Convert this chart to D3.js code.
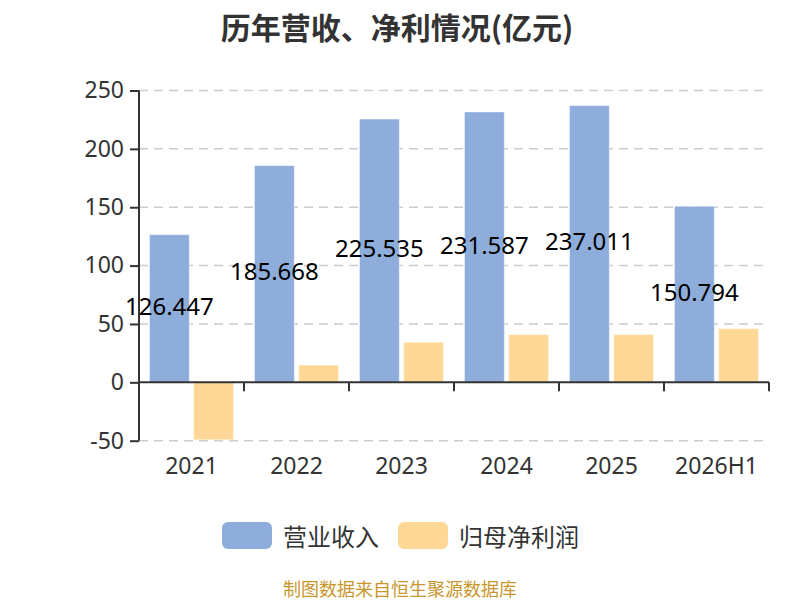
<!DOCTYPE html>
<html>
<head>
<meta charset="utf-8">
<script src="https://cdn.jsdelivr.net/npm/d3@7"></script>
<style>
  body { margin: 0; background: #fff; }
  svg { display: block; }
</style>
</head>
<body>
<script>
// chart data
var years = ["2021", "2022", "2023", "2024", "2025", "2026H1"];
var revenue = [126.447, 185.668, 225.535, 231.587, 237.011, 150.794];
var profit = [-49.2, 14.8, 34.3, 40.9, 40.9, 46.0];
var yTicks = [-50, 0, 50, 100, 150, 200, 250];
var seriesNames = ["营业收入", "归母净利润"];
var colors = ["#8eaddb", "#ffd898"];

var w = 800, h = 600;
var font = "'Noto Sans', 'Noto Sans CJK SC', sans-serif";

var svg = d3.select("body")
    .append("svg")
    .attr("width", w)
    .attr("height", h);

var xScale = d3.scaleBand()
    .domain(years)
    .range([139, 769]);
var inner = d3.scaleBand()
    .domain([0, 1])
    .range([10.5, xScale.bandwidth() - 10.5])
    .paddingInner(0.1);
var yScale = d3.scaleLinear()
    .domain([-50, 250])
    .range([440.7, 90.5]);

// title
svg.append("text")
    .text("历年营收、净利情况(亿元)")
    .attr("x", 397)
    .attr("y", 26)
    .attr("text-anchor", "middle")
    .attr("dominant-baseline", "central")
    .attr("font-family", "'Noto Sans CJK SC', sans-serif")
    .attr("font-weight", "bold")
    .attr("font-size", "30px")
    .attr("fill", "#333");

// dashed grid
svg.append("g")
    .selectAll("line")
    .data(yTicks.filter(function (d) { return d !== 0; }))
    .enter()
    .append("line")
    .attr("x1", 139)
    .attr("x2", 769)
    .attr("y1", function (d) { return yScale(d); })
    .attr("y2", function (d) { return yScale(d); })
    .attr("stroke", "#cccccc")
    .attr("stroke-width", 1.5)
    .attr("stroke-dasharray", "9,6");

// bars
var groups = svg.append("g")
    .selectAll("g")
    .data(years)
    .enter()
    .append("g")
    .attr("transform", function (d) { return "translate(" + xScale(d) + ",0)"; });

groups.selectAll("rect")
    .data(function (d, i) { return [revenue[i], profit[i]]; })
    .enter()
    .append("rect")
    .attr("x", function (d, j) { return inner(j); })
    .attr("width", inner.bandwidth())
    .attr("y", function (d) { return yScale(Math.max(0, d)); })
    .attr("height", function (d) { return Math.abs(yScale(d) - yScale(0)); })
    .attr("fill", function (d, j) { return colors[j]; })
    .attr("stroke", "#ffffff")
    .attr("stroke-opacity", 0.4)
    .attr("stroke-width", 1);

// y axis
var yAxis = d3.axisLeft(yScale)
    .tickValues(yTicks)
    .tickFormat(function (d) { return String(d); })
    .tickSize(9)
    .tickPadding(6);
var yg = svg.append("g")
    .attr("transform", "translate(139,0)")
    .call(yAxis);
yg.select(".domain").attr("stroke", "#333").attr("stroke-width", 2).attr("d", "M0," + yScale(-50) + "V" + yScale(250));
yg.selectAll(".tick line").attr("stroke", "#333").attr("stroke-width", 2);
yg.selectAll(".tick text")
    .attr("font-family", font)
    .attr("font-size", "23px")
    .attr("fill", "#333");

// x axis line at zero
var xg = svg.append("g");
xg.append("line")
    .attr("x1", 139)
    .attr("x2", 769)
    .attr("y1", yScale(0))
    .attr("y2", yScale(0))
    .attr("stroke", "#333")
    .attr("stroke-width", 2);
xg.selectAll("line.tk")
    .data(years.map(function (d) { return xScale(d); }).concat([xScale.range()[1]]).slice(1))
    .enter()
    .append("line")
    .attr("class", "tk")
    .attr("x1", function (d) { return d; })
    .attr("x2", function (d) { return d; })
    .attr("y1", yScale(0))
    .attr("y2", yScale(0) + 9)
    .attr("stroke", "#333")
    .attr("stroke-width", 2);
xg.selectAll("text")
    .data(years)
    .enter()
    .append("text")
    .text(function (d) { return d; })
    .attr("x", function (d) { return xScale(d) + xScale.bandwidth() / 2; })
    .attr("y", 465)
    .attr("text-anchor", "middle")
    .attr("dominant-baseline", "central")
    .attr("font-family", font)
    .attr("font-size", "23px")
    .attr("fill", "#333");

// value labels
svg.append("g")
    .selectAll("text")
    .data(revenue)
    .enter()
    .append("text")
    .text(function (d) { return d; })
    .attr("x", function (d, i) { return xScale(years[i]) + inner(0) + inner.bandwidth() / 2; })
    .attr("y", function (d) { return (yScale(d) + yScale(0)) / 2 - 3; })
    .attr("text-anchor", "middle")
    .attr("dominant-baseline", "central")
    .attr("font-family", font)
    .attr("font-size", "24px")
    .attr("fill", "#000");

// legend
var legendX = [222, 398];
var lg = svg.append("g")
    .selectAll("g")
    .data(seriesNames)
    .enter()
    .append("g")
    .attr("transform", function (d, i) { return "translate(" + legendX[i] + ",522)"; });
lg.append("rect")
    .attr("width", 50)
    .attr("height", 27)
    .attr("rx", 6)
    .attr("fill", function (d, i) { return colors[i]; });
lg.append("text")
    .text(function (d) { return d; })
    .attr("x", 61)
    .attr("y", 13.5)
    .attr("dominant-baseline", "central")
    .attr("font-family", "'Noto Sans CJK SC', sans-serif")
    .attr("font-size", "24px")
    .attr("fill", "#333");

// source note
svg.append("text")
    .text("制图数据来自恒生聚源数据库")
    .attr("x", 400)
    .attr("y", 588)
    .attr("text-anchor", "middle")
    .attr("dominant-baseline", "central")
    .attr("font-family", "'Noto Sans CJK SC', sans-serif")
    .attr("font-size", "18px")
    .attr("fill", "#c8962d");
</script>
</body>
</html>
